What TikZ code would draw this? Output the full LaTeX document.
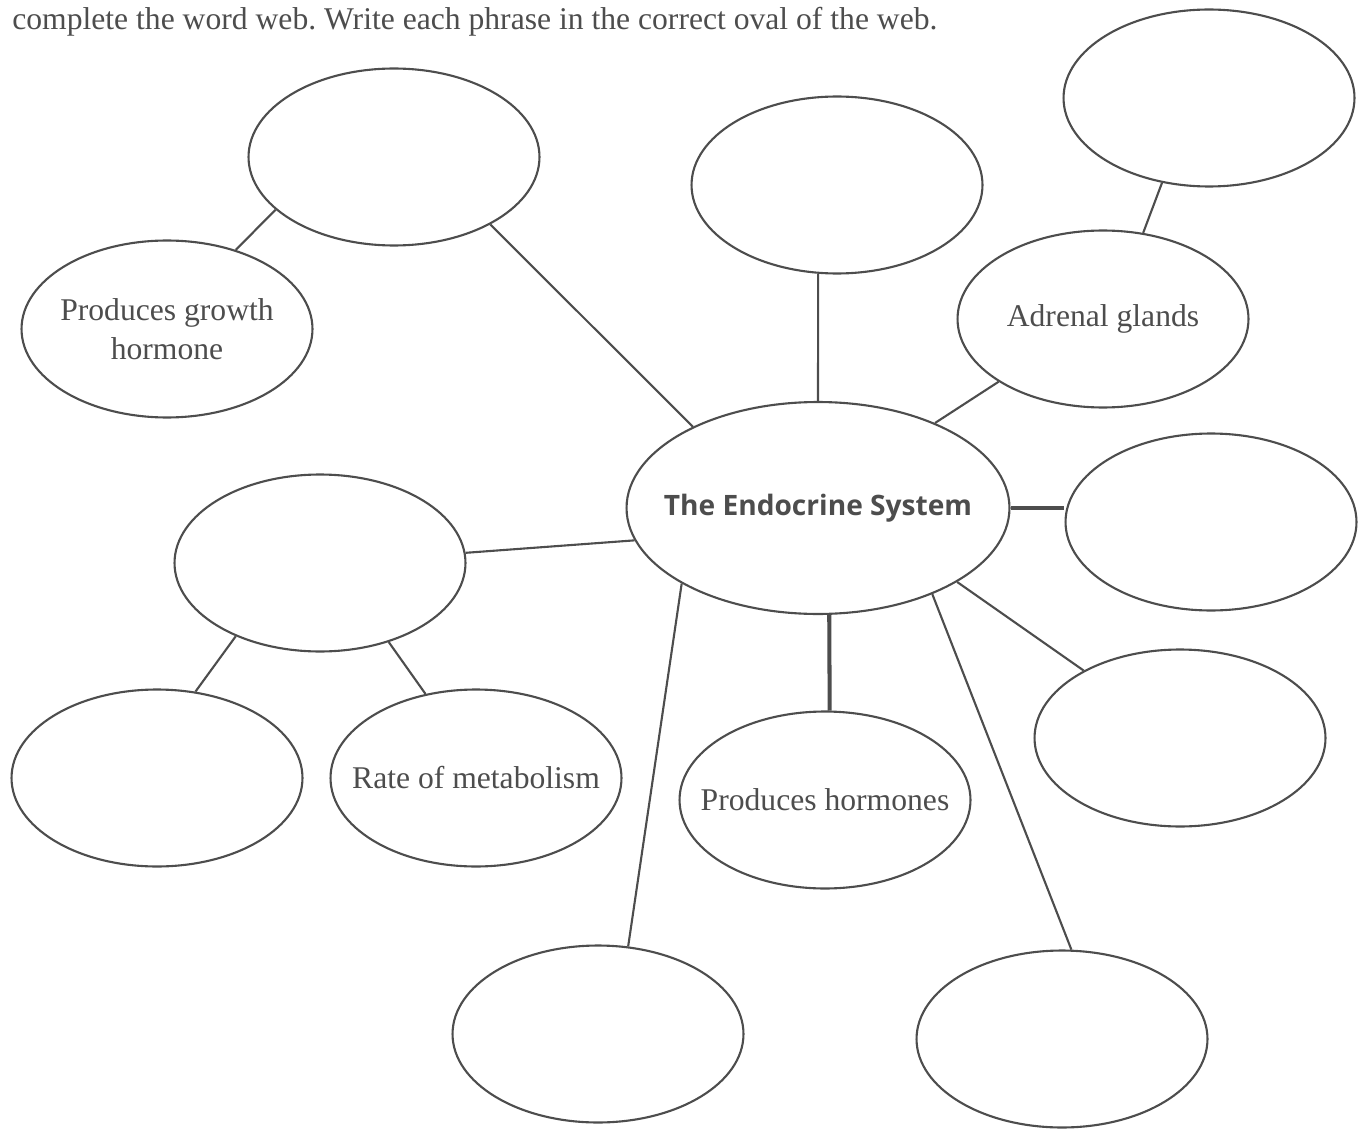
\documentclass[tikz,border=0pt]{standalone}
\usepackage{fontspec}
\setmainfont{Liberation Serif}
\newfontfamily\hubfont{Open Sans}
\usetikzlibrary{shapes.geometric}
\definecolor{inkgray}{HTML}{4D4D4D}

\begin{document}
\begin{tikzpicture}[
    x=0.02cm, y=-0.02cm,
    oval/.style={ellipse, draw=inkgray, line width=1.2pt, inner sep=0pt,
                 minimum width=5.82cm, minimum height=3.54cm},
    hub/.style={ellipse, draw=inkgray, line width=1.2pt, inner sep=0pt,
                minimum width=7.66cm, minimum height=4.24cm},
    link/.style={draw=inkgray, line width=1.2pt},
    thicklink/.style={draw=inkgray, line width=2.3pt},
    every label/.style={align=center, text=inkgray, font=\fontsize{18}{22}\selectfont}
]
    \useasboundingbox (0,0) rectangle (1361,1128);
    \node[anchor=base west, text=inkgray, font=\fontsize{18}{22}\selectfont\frenchspacing, inner sep=0pt] (prompt) at (12,30)
        {complete the word web. Write each phrase in the correct oval of the web.};

    \node[hub, label={[font=\hubfont\bfseries\fontsize{16}{19}\selectfont]center:The Endocrine System}] (endo) at (818,508) {};

    \node[oval] (pit) at (394,157) {};
    \node[oval, label={center:Produces growth\\hormone}] (growth) at (167,329) {};
    \node[oval] (top) at (837,185) {};
    \node[oval] (kid) at (1209,98) {};
    \node[oval, label={center:Adrenal glands}] (adrenal) at (1103,319) {};
    \node[oval] (right) at (1211,522) {};
    \node[oval] (thy) at (320,563) {};
    \node[oval] (lowleft) at (157,778) {};
    \node[oval, label={center:Rate of metabolism}] (rate) at (476,778) {};
    \node[oval, label={center:Produces hormones}] (hormones) at (825,800) {};
    \node[oval] (lowright) at (1180,738) {};
    \node[oval] (bottom) at (598,1034) {};
    \node[oval] (botright) at (1062,1039) {};

    \draw[link] (pit.204) -- (growth.49);
    \draw[link] (pit.325) -- (endo.147);
    \draw[link] (top.258) -- (endo.90);
    \draw[link] (kid.241) -- (adrenal.65);
    \draw[link] (adrenal.211) -- (endo.36);
    \draw[thicklink] (endo.0) -- (endo.0 -| right.west);
    \draw[link] (endo.190) -- (thy.4);
    \draw[link] (thy.221) -- (lowleft.66);
    \draw[link] (thy.311) -- (rate.121);
    \draw[thicklink] (endo.276) -- (hormones.87);
    \draw[link] (endo.332) -- (lowright.145);
    \draw[link] (endo.209) -- (bottom.71);
    \draw[link] (endo.323) -- (botright.84);
\end{tikzpicture}
\end{document}
